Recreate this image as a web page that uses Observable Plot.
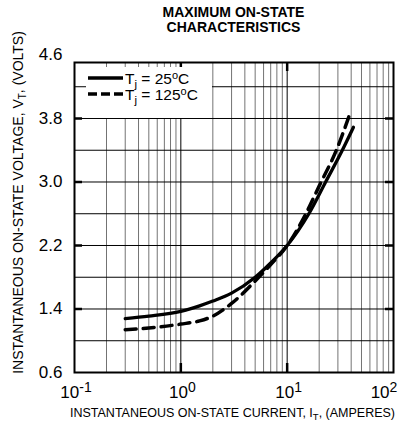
<!DOCTYPE html>
<html><head><meta charset="utf-8">
<script src="https://cdn.jsdelivr.net/npm/d3@7"></script>
<script src="https://cdn.jsdelivr.net/npm/@observablehq/plot@0.6"></script>
<style>body{margin:0;background:#fff}</style>
</head><body><div id="chart"></div>
<script>
const FONT = '"Liberation Sans", Arial, Helvetica, sans-serif';

// Data
const current25 = [0.3, 0.5, 1, 1.5, 2, 3, 5, 7, 10, 16, 23, 33, 42];
const voltage25 = [1.28, 1.31, 1.37, 1.44, 1.50, 1.60, 1.80, 1.98, 2.2, 2.6, 3.0, 3.4, 3.69];
const current125 = [0.3, 0.5, 1, 1.5, 2, 3, 5.4, 7, 10, 15, 20, 29, 38];
const voltage125 = [1.14, 1.16, 1.21, 1.25, 1.31, 1.47, 1.8, 1.96, 2.2, 2.6, 2.95, 3.4, 3.82];

const yTicks = [0.6, 1.4, 2.2, 3.0, 3.8, 4.6];
const yGrid = [1.0, 1.4, 1.8, 2.2, 2.6, 3.0, 3.4, 3.8, 4.2];
const yStubs = [1.4, 2.2, 3.0, 3.8];
const xDecades = [0.1, 1, 10, 100];
const xMajorGrid = [1, 10];
const xMinor = [0.2, 0.3, 0.4, 0.5, 0.6, 0.7, 0.8, 0.9,
                2, 3, 4, 5, 6, 7, 8, 9,
                20, 30, 40, 50, 60, 70, 80, 90];

const title = ["MAXIMUM ON-STATE", "CHARACTERISTICS"];
const yLabel = ["INSTANTANEOUS ON-STATE VOLTAGE, V", "T", ", (VOLTS)"];
const xLabel = ["INSTANTANEOUS ON-STATE CURRENT, I", "T", ", (AMPERES)"];
const legendTemps = ["25", "125"];

const d25 = current25.map((I, i) => ({I, V: voltage25[i]}));
const d125 = current125.map((I, i) => ({I, V: voltage125[i]}));

const W = 406, H = 427, mL = 74, mR = 13, mT = 62, mB = 55;
const fw = W - mL - mR, fh = H - mT - mB;

const chart = Plot.plot({
  width: W, height: H,
  marginLeft: mL, marginRight: mR, marginTop: mT, marginBottom: mB,
  style: {fontFamily: FONT, background: "#fff", color: "#000"},
  x: {type: "log", domain: [0.1, 100], axis: null},
  y: {domain: [0.6, 4.5055], axis: null},
  marks: [
    Plot.ruleY(yGrid, {stroke: "#000", strokeWidth: 1}),
    Plot.ruleX(xMinor, {stroke: "#000", strokeOpacity: 0.55, strokeWidth: 1}),
    Plot.ruleX(xMajorGrid, {stroke: "#000", strokeWidth: 1}),
    Plot.ruleY(yStubs, {insetRight: fw - 8, strokeWidth: 2.5}),
    Plot.ruleY(yStubs, {insetLeft: fw - 8, strokeWidth: 2.5}),
    Plot.ruleX(xMajorGrid, {insetBottom: fh - 9, strokeWidth: 2.5}),
    Plot.ruleX(xMajorGrid, {insetTop: fh - 9, strokeWidth: 2.5}),
    Plot.frame({stroke: "#000", strokeWidth: 2}),
    Plot.line(d25, {x: "I", y: "V", curve: "monotone-x", stroke: "#000", strokeWidth: 3.3}),
    Plot.line(d125, {x: "I", y: "V", curve: "monotone-x", stroke: "#000", strokeWidth: 3.5, strokeDasharray: "11,7"}),
    Plot.text(yTicks, {y: d => d, text: d => d.toFixed(1), frameAnchor: "left", textAnchor: "end", dx: -12, fontSize: 17, fill: "#000"})
  ]
});
document.getElementById("chart").appendChild(chart);

const sx = chart.scale("x");
const svg = d3.select(chart);
const g = svg.append("g").attr("font-family", FONT).attr("fill", "#000").attr("text-anchor", "start");

// x tick labels with superscript exponents
xDecades.forEach(d => {
  const px = sx.apply(d) + (d === 100 ? -9 : 2);
  const t = g.append("text").attr("x", px).attr("y", 398)
    .attr("text-anchor", "middle").attr("font-size", 17);
  t.append("tspan").text("10");
  t.append("tspan").attr("dy", -6).attr("font-size", 14).text(String(Math.round(Math.log10(d))));
});

// title
title.forEach((s, i) => {
  g.append("text").attr("x", mL + fw / 2).attr("y", 17 + i * 15)
    .attr("text-anchor", "middle").attr("font-size", 14).attr("font-weight", "bold").text(s);
});

// y label
{
  const t = g.append("text").attr("transform", "translate(23,202.5) rotate(-90)")
    .attr("text-anchor", "middle").attr("font-size", 14);
  t.append("tspan").text(yLabel[0]);
  t.append("tspan").attr("dy", 3).attr("font-size", 10).text(yLabel[1]);
  t.append("tspan").attr("dy", -3).text(yLabel[2]);
}
// x label
{
  const t = g.append("text").attr("x", 232.5).attr("y", 417)
    .attr("text-anchor", "middle").attr("font-size", 12.5);
  t.append("tspan").text(xLabel[0]);
  t.append("tspan").attr("dy", 3).attr("font-size", 9.5).text(xLabel[1]);
  t.append("tspan").attr("dy", -3).text(xLabel[2]);
}

// legend
{
  const lg = g.append("g");
  lg.append("rect").attr("x", 86).attr("y", 67).attr("width", 126).attr("height", 51).attr("fill", "#fff");
  legendTemps.forEach((temp, i) => {
    const ly = 78 + i * 16;
    lg.append("line").attr("x1", 88).attr("x2", 123).attr("y1", ly).attr("y2", ly)
      .attr("stroke", "#000").attr("stroke-width", 3.5)
      .attr("stroke-dasharray", i ? "9,4" : null);
    const t = lg.append("text").attr("x", 125).attr("y", ly + 6)
      .attr("text-anchor", "start").attr("font-size", 15.5).style("white-space", "pre");
    t.append("tspan").text("T");
    t.append("tspan").attr("dy", 3.5).attr("font-size", 11.5).text("j");
    t.append("tspan").attr("dy", -3.5).text(" = " + temp);
    t.append("tspan").attr("dy", -5.5).attr("font-size", 11).text("o");
    t.append("tspan").attr("dy", 5.5).text("C");
  });
}
</script>
</body></html>
